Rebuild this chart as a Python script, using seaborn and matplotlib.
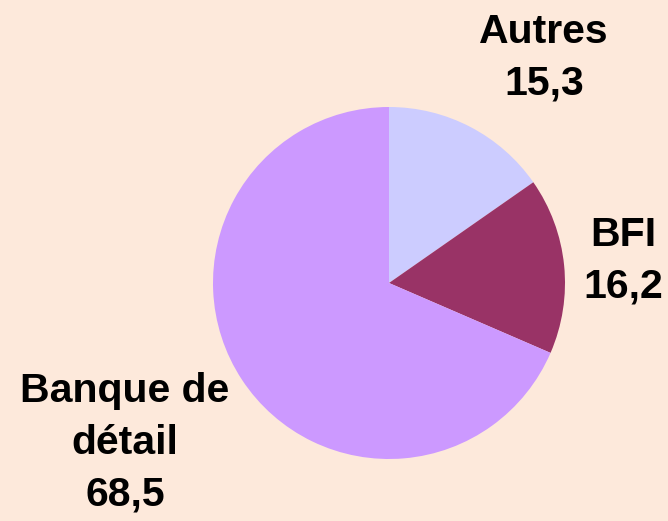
import matplotlib.pyplot as plt
import seaborn as sns

labels = ["Autres", "BFI", "Banque de\ndétail"]
values = [15.3, 16.2, 68.5]
colors = ["#CCCCFF", "#993366", "#CC99FF"]

sns.set_style("white")
plt.rcParams['font.family'] = ['Liberation Sans', 'DejaVu Sans']

bg = "#FDE9DB"
fig = plt.figure(figsize=(6.68, 5.21), dpi=100, facecolor=bg)
ax = fig.add_axes([0, 0, 1, 1])
ax.set_facecolor(bg)

# pixel-like data coords, y up
ax.pie(values, colors=colors, startangle=90, counterclock=False,
       center=(389, 238), radius=176, wedgeprops=dict(linewidth=0))
ax.set_xlim(0, 668)
ax.set_ylim(0, 521)
ax.set_aspect("equal")
ax.axis("off")

label_pos = {"Autres": (544, 463), "BFI": (623, 260), "Banque de\ndétail": (125, 78)}
for lab, val in zip(labels, values):
    x, y = label_pos[lab]
    txt = f"{lab}\n{val:.1f}".replace(".", ",")
    ax.text(x, y, txt, ha="center", va="center", fontsize=29.5,
            fontweight="bold", linespacing=1.45, color="black")

fig.savefig("out.png", dpi=100, facecolor=bg)
